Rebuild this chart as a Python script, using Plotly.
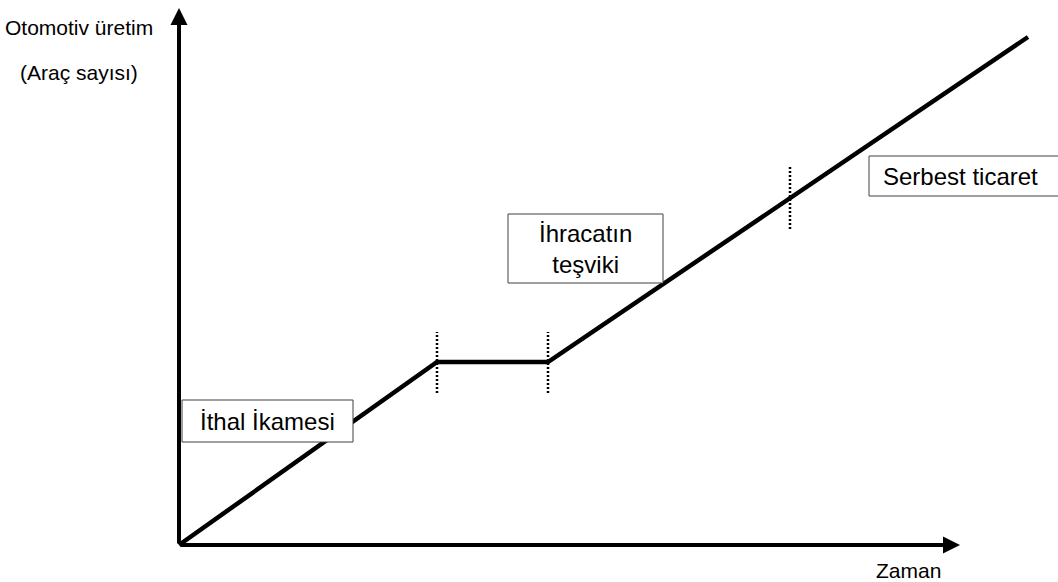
import plotly.graph_objects as go

# ---- data (arbitrary units: time vs production) ----
time_pts = [0, 258, 369, 849]
production_pts = [0, 183, 183, 508]

phase_breaks = [258, 369, 611]
break_low = [152, 152, 316]
break_high = [213, 213, 380]

phase_labels = ["İthal İkamesi", "İhracatın<br>teşviki", "Serbest ticaret"]
box_x0 = [3, 329, 690]
box_x1 = [174, 484, 890]
box_y0 = [103, 262, 349]
box_y1 = [145, 331, 389]

y_label_1 = "Otomotiv üretim"
y_label_2 = "(Araç sayısı)"
x_label = "Zaman"

x_axis_end = 781
y_axis_end = 537

FONT = "Liberation Sans, Arial, sans-serif"

fig = go.Figure()

# main production line
fig.add_trace(go.Scatter(x=time_pts, y=production_pts, mode="lines",
                         line=dict(color="black", width=4.5), hoverinfo="skip"))

# dotted phase separators
for xb, lo, hi in zip(phase_breaks, break_low, break_high):
    fig.add_trace(go.Scatter(x=[xb, xb], y=[lo, hi], mode="lines",
                             line=dict(color="black", width=2.5, dash="2px,2px"),
                             hoverinfo="skip"))

# axes with arrows
fig.add_annotation(x=x_axis_end, y=0, ax=0, ay=0, xref="x", yref="y", axref="x", ayref="y",
                   text="", showarrow=True, arrowhead=2, arrowwidth=4, arrowsize=0.85,
                   arrowcolor="black")
fig.add_annotation(x=0, y=y_axis_end, ax=0, ay=0, xref="x", yref="y", axref="x", ayref="y",
                   text="", showarrow=True, arrowhead=2, arrowwidth=4, arrowsize=0.85,
                   arrowcolor="black")

# phase boxes
for i, lab in enumerate(phase_labels):
    fig.add_shape(type="rect", x0=box_x0[i], x1=box_x1[i], y0=box_y0[i], y1=box_y1[i],
                  xref="x", yref="y", line=dict(color="#404040", width=1),
                  fillcolor="white", layer="above")

fig.add_annotation(x=(box_x0[0] + box_x1[0]) / 2, y=(box_y0[0] + box_y1[0]) / 2,
                   text=phase_labels[0], showarrow=False,
                   font=dict(family=FONT, size=24, color="black"))
fig.add_annotation(x=(box_x0[1] + box_x1[1]) / 2, y=(box_y0[1] + box_y1[1]) / 2,
                   text=phase_labels[1], showarrow=False,
                   font=dict(family=FONT, size=24, color="black"))
fig.add_annotation(x=box_x0[2] + 12, y=(box_y0[2] + box_y1[2]) / 2, xanchor="left",
                   text=phase_labels[2], showarrow=False,
                   font=dict(family=FONT, size=24, color="black"))

# axis titles
fig.add_annotation(x=-100, y=518, text=y_label_1, showarrow=False,
                   font=dict(family=FONT, size=21, color="black"))
fig.add_annotation(x=-100, y=473, text=y_label_2, showarrow=False,
                   font=dict(family=FONT, size=21, color="black"))
fig.add_annotation(x=729, y=-25, text=x_label, showarrow=False,
                   font=dict(family=FONT, size=21, color="black"))

fig.update_layout(
    width=1058, height=582,
    margin=dict(l=0, r=0, t=0, b=0),
    paper_bgcolor="white", plot_bgcolor="white",
    showlegend=False,
    xaxis=dict(range=[-179, 879], visible=False, fixedrange=True),
    yaxis=dict(range=[-37, 545], visible=False, fixedrange=True),
)

fig.write_html("out.html", config={"displayModeBar": False},
               post_script="document.body.style.margin='0';document.body.style.overflow='hidden';")
